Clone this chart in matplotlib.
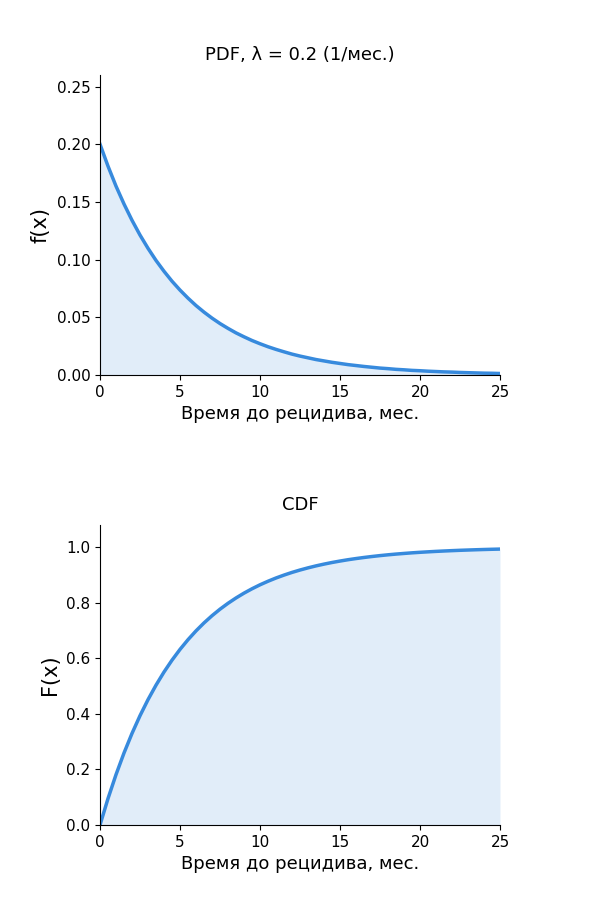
import matplotlib
matplotlib.use("Agg")
import matplotlib.pyplot as plt

# время, мес. (шаг 0.5)
x = [i * 0.5 for i in range(51)]

# PDF, lambda = 0.2
pdf = [0.2000, 0.1810, 0.1637, 0.1482, 0.1341, 0.1213, 0.1098, 0.0993, 0.0899, 0.0813,
       0.0736, 0.0666, 0.0602, 0.0545, 0.0493, 0.0446, 0.0404, 0.0365, 0.0331, 0.0299,
       0.0271, 0.0245, 0.0222, 0.0201, 0.0181, 0.0164, 0.0149, 0.0134, 0.0122, 0.0110,
       0.0100, 0.0090, 0.0082, 0.0074, 0.0067, 0.0060, 0.0055, 0.0049, 0.0045, 0.0040,
       0.0037, 0.0033, 0.0030, 0.0027, 0.0025, 0.0022, 0.0020, 0.0018, 0.0016, 0.0015,
       0.0013]

# CDF
cdf = [0.0000, 0.0952, 0.1813, 0.2592, 0.3297, 0.3935, 0.4512, 0.5034, 0.5507, 0.5934,
       0.6321, 0.6671, 0.6988, 0.7275, 0.7534, 0.7769, 0.7981, 0.8173, 0.8347, 0.8504,
       0.8647, 0.8775, 0.8892, 0.8997, 0.9093, 0.9179, 0.9257, 0.9328, 0.9392, 0.9450,
       0.9502, 0.9550, 0.9592, 0.9631, 0.9666, 0.9698, 0.9727, 0.9753, 0.9776, 0.9798,
       0.9817, 0.9834, 0.9850, 0.9864, 0.9877, 0.9889, 0.9899, 0.9909, 0.9918, 0.9926,
       0.9933]

color = "#378ADD"
xlabel = "Время до рецидива, мес."

fig, (ax1, ax2) = plt.subplots(2, 1, figsize=(6, 9), dpi=100)
fig.subplots_adjust(left=1/6, right=5/6, top=1 - 75/900, bottom=75/900, hspace=0.5)

ax1.plot(x, pdf, color=color, lw=2.5)
ax1.fill_between(x, pdf, color=color, alpha=0.15, lw=0)
ax1.set_xlim(0, 25)
ax1.set_ylim(0, 0.26)
ax1.set_title("PDF, λ = 0.2 (1/мес.)", fontsize=13, pad=10.5)
ax1.set_xlabel(xlabel, fontsize=13)
ax1.set_ylabel("f(x)", fontsize=15)

ax2.plot(x, cdf, color=color, lw=2.5)
ax2.fill_between(x, cdf, color=color, alpha=0.15, lw=0)
ax2.set_xlim(0, 25)
ax2.set_ylim(0, 1.08)
ax2.set_title("CDF", fontsize=13, pad=10.5)
ax2.set_xlabel(xlabel, fontsize=13)
ax2.set_ylabel("F(x)", fontsize=15)

for ax in (ax1, ax2):
    ax.spines["top"].set_visible(False)
    ax.spines["right"].set_visible(False)
    ax.tick_params(labelsize=11)

plt.savefig("out.png", dpi=100)
